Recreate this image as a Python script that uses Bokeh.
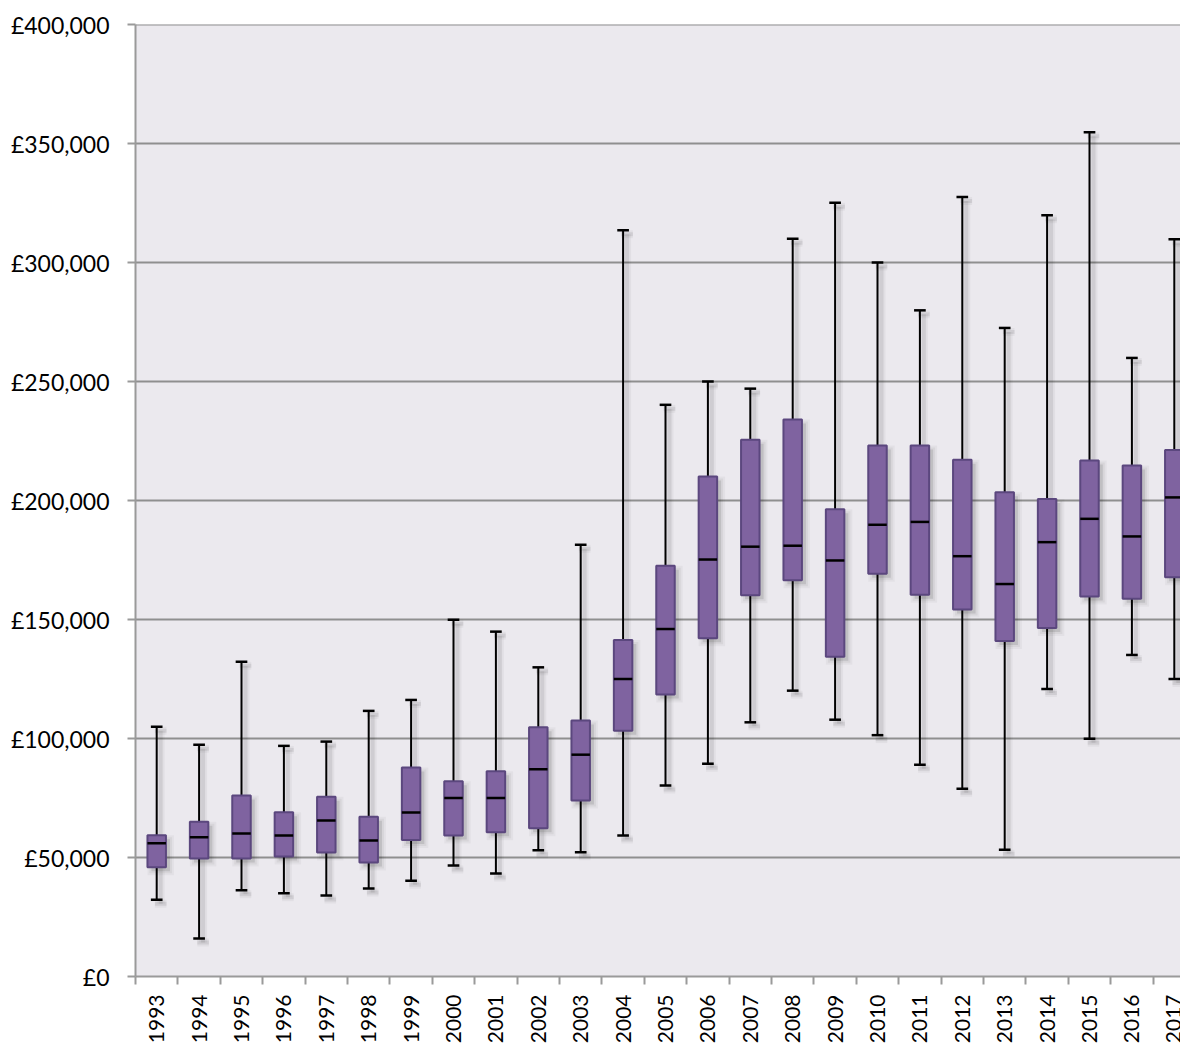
import numpy as np
from bokeh.plotting import figure
from bokeh.models import Range1d, FixedTicker, LinearAxis, CustomJSTickFormatter, ColumnDataSource
from bokeh.embed import file_html
from bokeh.resources import INLINE

# ---------------- data ----------------
years = ["1993", "1994", "1995", "1996", "1997", "1998", "1999", "2000", "2001", "2002",
         "2003", "2004", "2005", "2006", "2007", "2008", "2009", "2010", "2011", "2012",
         "2013", "2014", "2015", "2016", "2017"]
whisker_low = [32200, 16000, 36200, 35000, 34000, 37000, 40200, 46600, 43300, 53000,
               52200, 59200, 80200, 89400, 106800, 120100, 107900, 101400, 89000, 78900,
               53300, 120800, 99900, 135100, 125000]
q1 = [45900, 49600, 49600, 50400, 52100, 47900, 57400, 59200, 60600, 62300,
      73900, 103300, 118500, 142100, 160200, 166500, 134300, 169200, 160400, 154200,
      141000, 146400, 159700, 158700, 167700]
median = [56000, 58500, 60100, 59200, 65500, 57100, 68900, 75000, 75000, 87100,
          93200, 125000, 146000, 175200, 180600, 181000, 174800, 189800, 191000, 176600,
          164900, 182500, 192300, 184900, 201300]
q3 = [59300, 65000, 76000, 69000, 75500, 67100, 87800, 82000, 86200, 104700,
      107600, 141400, 172600, 210100, 225500, 234000, 196300, 223100, 223100, 217100,
      203500, 200600, 216800, 214700, 221200]
whisker_high = [104900, 97400, 132300, 96900, 98700, 111600, 116200, 149900, 144900, 129900,
                181400, 313500, 240200, 250000, 247000, 310000, 325100, 300000, 279900, 327500,
                272500, 319900, 354700, 259900, 309800]
y_tick_values = [0, 50000, 100000, 150000, 200000, 250000, 300000, 350000, 400000]
y_tick_labels = ["£0", "£50,000", "£100,000", "£150,000", "£200,000", "£250,000",
                 "£300,000", "£350,000", "£400,000"]

# ---------------- layout constants ----------------
FONT = "Lato"
FRAME_W = 1045
FRAME_H = 952
CAT_PX = 42.4                       # pixel width of one category
n = len(years)
x_end = FRAME_W / CAT_PX            # chart is cut at the right edge like the original
pxx = 1.0 / CAT_PX                  # data units per pixel (x)
pxy = 400000.0 / FRAME_H            # data units per pixel (y)
BW = 0.436                          # box width (category units)
CW = 0.275                          # cap width

xs = np.arange(n) + 0.5
lo = np.array(whisker_low, float)
hi = np.array(whisker_high, float)
b1 = np.array(q1, float)
b3 = np.array(q3, float)
md = np.array(median, float)

src = ColumnDataSource(dict(x=xs, lo=lo, hi=hi, q1=b1, q3=b3, med=md,
                            bl=xs - BW / 2, br=xs + BW / 2,
                            cl=xs - CW / 2, cr=xs + CW / 2))

p = figure(frame_width=FRAME_W, frame_height=FRAME_H,
           x_range=Range1d(0, x_end), y_range=Range1d(0, 400000),
           output_backend="svg", toolbar_location=None,
           min_border_left=135, min_border_right=0, min_border_top=24, min_border_bottom=20,
           x_axis_type=None, y_axis_type=None)
p.background_fill_color = "#ebe9ee"
p.border_fill_color = "white"
p.outline_line_color = None

# ---------------- axes ----------------
yaxis = LinearAxis(ticker=FixedTicker(ticks=y_tick_values, minor_ticks=[]),
                   formatter=CustomJSTickFormatter(args=dict(vals=y_tick_values, labs=y_tick_labels),
                                                   code="const i = vals.indexOf(Math.round(tick)); return i >= 0 ? labs[i] : '';"))
yaxis.axis_line_color = "#9a9a9a"
yaxis.axis_line_width = 2
yaxis.major_tick_line_color = "#9a9a9a"
yaxis.major_tick_line_width = 2
yaxis.major_tick_out = 8
yaxis.major_tick_in = 0
yaxis.minor_tick_out = 0
yaxis.major_label_standoff = 18
yaxis.major_label_text_font = FONT
yaxis.major_label_text_font_size = "23px"
yaxis.major_label_text_color = "black"
p.add_layout(yaxis, "left")

xaxis = LinearAxis(ticker=FixedTicker(ticks=list(xs), minor_ticks=list(range(n + 1))),
                   formatter=CustomJSTickFormatter(args=dict(labs=years),
                                                   code="const l = labs[Math.floor(tick)]; return l === undefined ? '' : l;"))
xaxis.axis_line_color = "#9a9a9a"
xaxis.axis_line_width = 2
xaxis.major_tick_out = 0
xaxis.major_tick_in = 0
xaxis.minor_tick_out = 8
xaxis.minor_tick_in = 0
xaxis.minor_tick_line_color = "#9a9a9a"
xaxis.minor_tick_line_width = 2
xaxis.major_label_orientation = np.pi / 2
xaxis.major_label_standoff = 10
xaxis.major_label_text_font = FONT
xaxis.major_label_text_font_size = "21px"
xaxis.major_label_text_color = "black"
p.add_layout(xaxis, "below")

# horizontal gridlines
for v in y_tick_values[1:]:
    p.segment(x0=0, x1=x_end, y0=v, y1=v, line_color="#8f8f8f", line_width=2)

# ---------------- shadows ----------------
for grow, a in [(0, 0.10), (2, 0.05), (4, 0.035)]:
    p.quad(left=xs - BW / 2 + (4 - grow) * pxx, right=xs + BW / 2 + (4 + grow) * pxx,
           top=b3 - (4 - grow) * pxy, bottom=b1 - (4 + grow) * pxy,
           fill_color="black", fill_alpha=a, line_color=None)
for w, a in [(4, 0.08), (8, 0.04)]:
    p.segment(x0=xs + 4 * pxx, x1=xs + 4 * pxx, y0=lo - 4 * pxy, y1=hi - 4 * pxy,
              line_color="black", line_alpha=a, line_width=w)
    p.segment(x0=xs - CW / 2 + 4 * pxx, x1=xs + CW / 2 + 4 * pxx, y0=hi - 4 * pxy, y1=hi - 4 * pxy,
              line_color="black", line_alpha=a, line_width=w)
    p.segment(x0=xs - CW / 2 + 4 * pxx, x1=xs + CW / 2 + 4 * pxx, y0=lo - 4 * pxy, y1=lo - 4 * pxy,
              line_color="black", line_alpha=a, line_width=w)

# ---------------- box plot ----------------
p.segment(x0="x", x1="x", y0="lo", y1="hi", source=src, line_color="black", line_width=2)
p.segment(x0="cl", x1="cr", y0="hi", y1="hi", source=src, line_color="black", line_width=2.5)
p.segment(x0="cl", x1="cr", y0="lo", y1="lo", source=src, line_color="black", line_width=2.5)
p.quad(left="bl", right="br", top="q3", bottom="q1", source=src,
       fill_color="#7f63a0", line_color="#5b477e", line_width=2)
p.segment(x0="bl", x1="br", y0="med", y1="med", source=src, line_color="black", line_width=2.5)

open("out.html", "w").write(file_html(p, INLINE))
